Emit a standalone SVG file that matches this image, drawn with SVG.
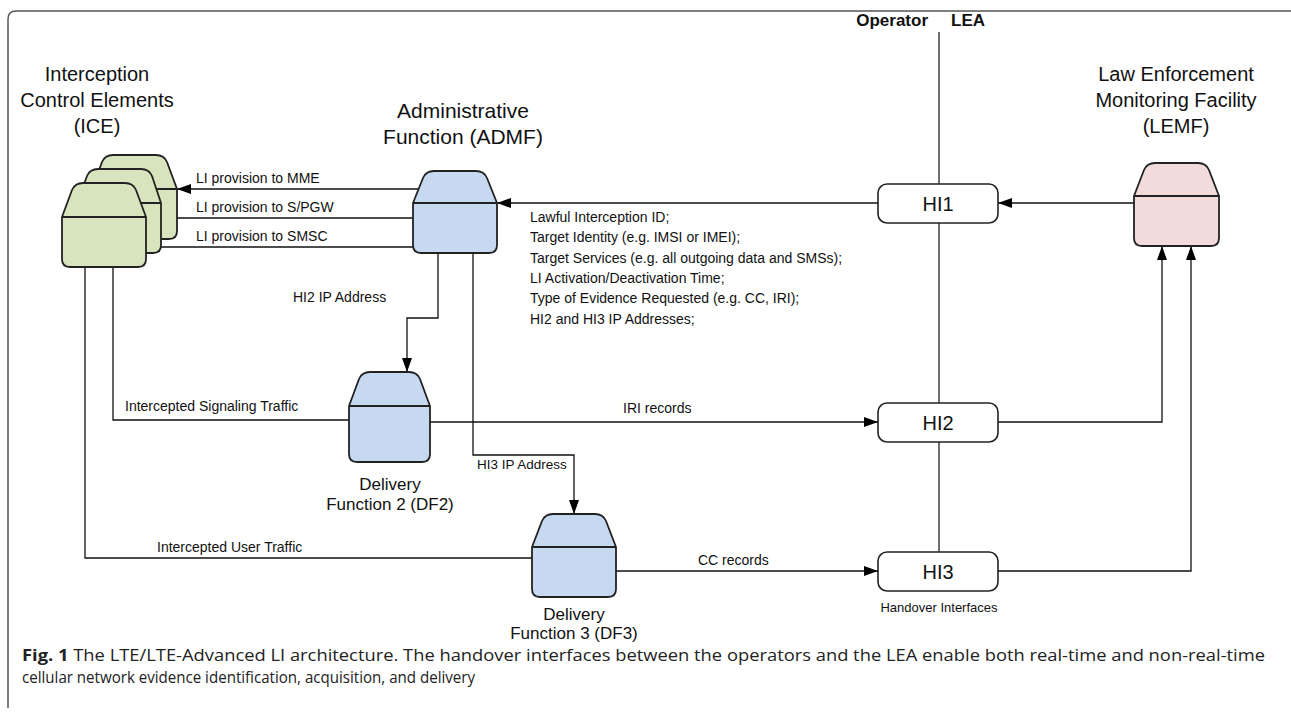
<svg xmlns="http://www.w3.org/2000/svg" width="1291" height="721" viewBox="0 0 1291 721">
  <style>
    .t { font-family: "Liberation Sans", Arial, sans-serif; fill: #111; }
    .title { font-size: 20px; text-anchor: middle; }
    .lbl { font-size: 14px; }
    .hi { font-size: 20px; text-anchor: middle; }
    .dl { font-size: 17px; text-anchor: middle; }
    .side { font-size: 17px; font-weight: bold; }
    .wire { fill: none; stroke: #111; stroke-width: 1.3; }
    .box { stroke: #222; stroke-width: 1.8; stroke-linejoin: round; }
    .green { fill: #d7e4bd; }
    .blue { fill: #c6d9f1; }
    .pink { fill: #f2dcdb; }
    .hibox { fill: #fff; stroke: #222; stroke-width: 1.6; }
    .cap { font-family: "Open Sans", "Noto Sans", sans-serif; font-size: 15.5px; fill: #222; }
  </style>
  <defs>
    <marker id="arr" viewBox="0 0 14 10" refX="14" refY="5" markerWidth="14" markerHeight="10" markerUnits="userSpaceOnUse" orient="auto">
      <path d="M0,0 L14,5 L0,10 Z" fill="#000"/>
    </marker>
  </defs>

  <rect width="1291" height="721" fill="#fff"/>

  <!-- figure frame: top and left edges only -->
  <path d="M8,708 V19 Q8,11 16,11 H1291" fill="none" stroke="#555" stroke-width="1.5"/>

  <!-- operator / LEA boundary -->
  <line x1="939" y1="32" x2="939" y2="577" stroke="#222" stroke-width="1.3"/>
  <text class="t side" x="928" y="26" text-anchor="end">Operator</text>
  <text class="t side" x="951" y="26">LEA</text>

  <!-- connectors -->
  <g id="connectors">
    <path class="wire" d="M420,189 H177" marker-end="url(#arr)"/>
    <path class="wire" d="M413,218 H161" marker-end="url(#arr)"/>
    <path class="wire" d="M413,247 H146" marker-end="url(#arr)"/>
    <path class="wire" d="M878,203 H497" marker-end="url(#arr)"/>
    <path class="wire" d="M1134,203 H998" marker-end="url(#arr)"/>
    <path class="wire" d="M438,253 V318 H407 V372" marker-end="url(#arr)"/>
    <path class="wire" d="M473,253 V455 H574 V514" marker-end="url(#arr)"/>
    <path class="wire" d="M113,267 V420 H349"/>
    <path class="wire" d="M85,267 V558 H532"/>
    <path class="wire" d="M430,422 H878" marker-end="url(#arr)"/>
    <path class="wire" d="M616,571 H878" marker-end="url(#arr)"/>
    <path class="wire" d="M998,422 H1162 V246" marker-end="url(#arr)"/>
    <path class="wire" d="M998,571 H1191 V246" marker-end="url(#arr)"/>

    <text class="t lbl" x="196" y="183">LI provision to MME</text>
    <text class="t lbl" x="196" y="212">LI provision to S/PGW</text>
    <text class="t lbl" x="196" y="241">LI provision to SMSC</text>
    <text class="t lbl" x="293" y="302">HI2 IP Address</text>
    <text class="t lbl" x="477" y="469" style="font-size:13.5px">HI3 IP Address</text>
    <text class="t lbl" x="125" y="411">Intercepted Signaling Traffic</text>
    <text class="t lbl" x="157" y="552">Intercepted User Traffic</text>
    <text class="t lbl" x="623" y="413">IRI records</text>
    <text class="t lbl" x="698" y="565">CC records</text>
    <g class="t lbl">
      <text x="530" y="222">Lawful Interception ID;</text>
      <text x="530" y="242">Target Identity (e.g. IMSI or IMEI);</text>
      <text x="530" y="263">Target Services (e.g. all outgoing data and SMSs);</text>
      <text x="530" y="283">LI Activation/Deactivation Time;</text>
      <text x="530" y="303">Type of Evidence Requested (e.g. CC, IRI);</text>
      <text x="530" y="324">HI2 and HI3 IP Addresses;</text>
    </g>
  </g>

  <!-- Interception Control Elements (stack of three) -->
  <g id="ice">
    <path class="box green" d="M92,189 L102,162 Q105,155 113,155 H156 Q164,155 167,162 L177,189 V231 Q177,239 169,239 H100 Q92,239 92,231 Z M92,189 H177"/>
    <path class="box green" d="M77,203 L87,176 Q90,169 98,169 H141 Q149,169 152,176 L161,203 V245 Q161,253 153,253 H85 Q77,253 77,245 Z M77,203 H161"/>
    <path class="box green" d="M62,217 L72,190 Q75,183 83,183 H125 Q133,183 136,190 L146,217 V259 Q146,267 138,267 H70 Q62,267 62,259 Z M62,217 H146"/>
    <text class="t title" x="97" y="81">Interception</text>
    <text class="t title" x="97" y="107">Control Elements</text>
    <text class="t title" x="97" y="133">(ICE)</text>
  </g>

  <!-- Administrative Function -->
  <g id="admf">
    <path class="box blue" d="M413,203 L423,178 Q426,171 434,171 H476 Q484,171 487,178 L497,203 V245 Q497,253 489,253 H421 Q413,253 413,245 Z M413,203 H497"/>
    <text class="t title" x="463" y="118" style="font-size:21px">Administrative</text>
    <text class="t title" x="463" y="144" style="font-size:21px">Function (ADMF)</text>
  </g>

  <!-- Delivery Function 2 -->
  <g id="df2">
    <path class="box blue" d="M349,406 L359,379 Q362,372 370,372 H409 Q417,372 420,379 L430,406 V454 Q430,462 422,462 H357 Q349,462 349,454 Z M349,406 H430"/>
    <text class="t dl" x="390" y="490">Delivery</text>
    <text class="t dl" x="390" y="510">Function 2 (DF2)</text>
  </g>

  <!-- Delivery Function 3 -->
  <g id="df3">
    <path class="box blue" d="M532,547 L542,521 Q545,514 553,514 H595 Q603,514 606,521 L616,547 V589 Q616,597 608,597 H540 Q532,597 532,589 Z M532,547 H616"/>
    <text class="t dl" x="574" y="620">Delivery</text>
    <text class="t dl" x="574" y="639">Function 3 (DF3)</text>
  </g>

  <!-- Law Enforcement Monitoring Facility -->
  <g id="lemf">
    <path class="box pink" d="M1134,196 L1144,170 Q1147,163 1155,163 H1198 Q1206,163 1209,170 L1219,196 V238 Q1219,246 1211,246 H1142 Q1134,246 1134,238 Z M1134,196 H1219"/>
    <text class="t title" x="1176" y="81">Law Enforcement</text>
    <text class="t title" x="1176" y="107">Monitoring Facility</text>
    <text class="t title" x="1176" y="133">(LEMF)</text>
  </g>

  <!-- Handover interfaces -->
  <g id="hi1">
    <rect class="hibox" x="878" y="184" width="120" height="39" rx="9"/>
    <text class="t hi" x="938" y="211">HI1</text>
  </g>
  <g id="hi2">
    <rect class="hibox" x="878" y="403" width="120" height="39" rx="9"/>
    <text class="t hi" x="938" y="430">HI2</text>
  </g>
  <g id="hi3">
    <rect class="hibox" x="878" y="552" width="120" height="39" rx="9"/>
    <text class="t hi" x="938" y="579">HI3</text>
  </g>
  <text class="t" x="939" y="612" font-size="13" text-anchor="middle">Handover Interfaces</text>

  <!-- caption -->
  <text class="cap" x="22" y="661" textLength="1243" lengthAdjust="spacingAndGlyphs"><tspan font-weight="bold">Fig. 1</tspan> The LTE/LTE-Advanced LI architecture. The handover interfaces between the operators and the LEA enable both real-time and non-real-time</text>
  <text class="cap" x="22" y="683" textLength="453" lengthAdjust="spacingAndGlyphs">cellular network evidence identification, acquisition, and delivery</text>
</svg>
